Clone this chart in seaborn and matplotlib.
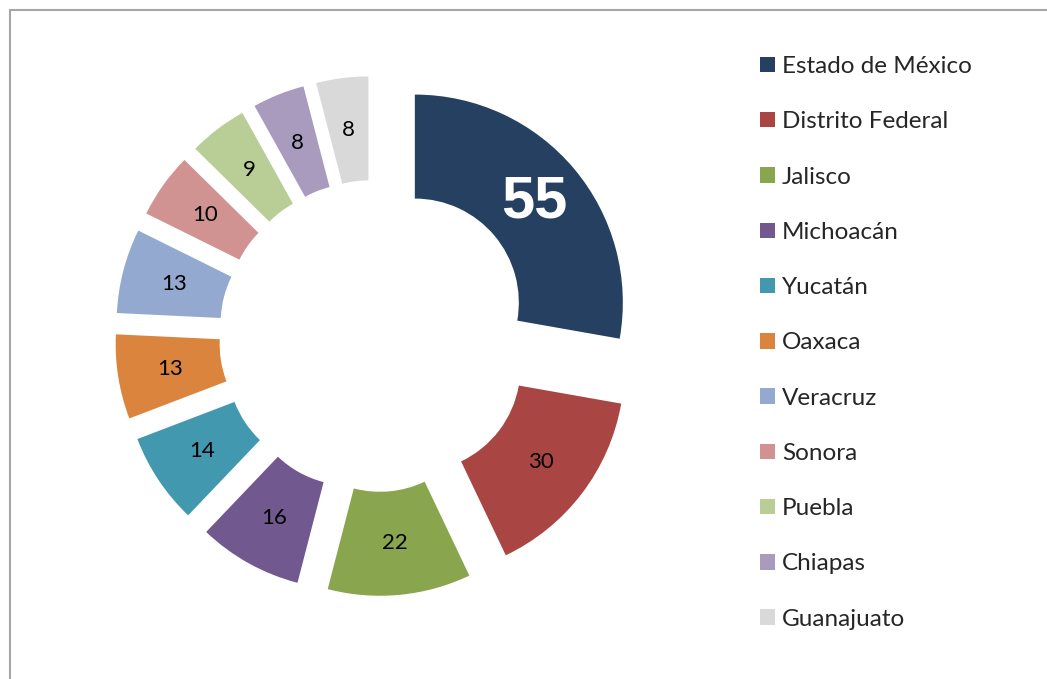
import numpy as np
import seaborn as sns
import matplotlib.pyplot as plt
from matplotlib.patches import Rectangle

estados = ['Estado de México', 'Distrito Federal', 'Jalisco', 'Michoacán', 'Yucatán',
           'Oaxaca', 'Veracruz', 'Sonora', 'Puebla', 'Chiapas', 'Guanajuato']
valores = [55, 30, 22, 16, 14, 13, 13, 10, 9, 8, 8]
colores = ['#254061', '#A94643', '#89A54E', '#71588F', '#4198AF', '#DB843D',
           '#93A9CF', '#D19392', '#B9CD96', '#A99BBD', '#D9D9D9']

sns.set_theme(style='white')
plt.rcParams['font.family'] = ['Lato', 'DejaVu Sans']

W, H = 1047, 679
fig = plt.figure(figsize=(W / 100, H / 100), dpi=100)
ax = fig.add_axes([0, 0, 1, 1])

R = 208
pal = sns.color_palette(colores)
wedges, _ = ax.pie(valores, colors=pal, startangle=90, counterclock=False,
                   radius=R, center=(375, H - 336), explode=[52] * len(valores),
                   wedgeprops=dict(width=R / 2, edgecolor='none'), frame=True)
ax.set_xlim(0, W)
ax.set_ylim(0, H)
ax.axis('off')

for i, w in enumerate(wedges):
    ang = np.deg2rad((w.theta1 + w.theta2) / 2)
    cx, cy = w.center
    r = 0.75 * R
    x, y = cx + r * np.cos(ang), cy + r * np.sin(ang)
    if i == 0:
        ax.text(x, y, str(valores[i]), ha='center', va='center', color='white',
                fontsize=43, fontweight='bold',
                family=['Liberation Sans', 'DejaVu Sans'])
    else:
        ax.text(x, y, str(valores[i]), ha='center', va='center', color='black',
                fontsize=16)

leg = ax.legend(wedges, estados, loc='upper left', bbox_to_anchor=(760 / W, 1 - 56 / H),
                bbox_transform=fig.transFigure, frameon=False, fontsize=17.5,
                handlelength=0.6, handleheight=0.6, handletextpad=0.3,
                labelspacing=1.41, borderaxespad=0, borderpad=0)

fig.patches.append(Rectangle((10 / W, -0.1), 1.2, 1 - 10 / H + 0.1, transform=fig.transFigure,
                             fill=False, edgecolor='#A6A6A6', linewidth=1.5))

fig.savefig('out.png', dpi=100)
